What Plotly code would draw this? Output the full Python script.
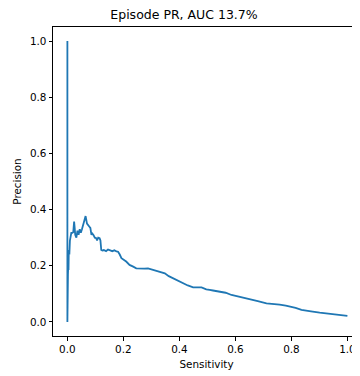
import plotly.graph_objects as go

# Sensitivity (recall) and precision points
sensitivity = [1.0, 0.961, 0.93, 0.901, 0.87, 0.836, 0.815, 0.8, 0.78, 0.758, 0.735, 0.711,
               0.68, 0.651, 0.621, 0.6, 0.586, 0.565, 0.544, 0.52, 0.508, 0.496, 0.479, 0.465,
               0.449, 0.43, 0.413, 0.395, 0.377, 0.362, 0.348, 0.333, 0.318, 0.3, 0.288, 0.275,
               0.264, 0.255, 0.246, 0.235, 0.222, 0.21, 0.2, 0.193, 0.187, 0.181, 0.175, 0.168,
               0.16, 0.152, 0.145, 0.138, 0.13, 0.125, 0.121, 0.118, 0.115, 0.11, 0.106, 0.103,
               0.098, 0.093, 0.089, 0.086, 0.082, 0.078, 0.074, 0.07, 0.065, 0.061, 0.058, 0.056,
               0.052, 0.048, 0.044, 0.04, 0.036, 0.032, 0.028, 0.026, 0.024, 0.021, 0.018, 0.014,
               0.011, 0.009, 0.007, 0.005, 0.004, 0.003, 0.002, 0.0, 0.0]
precision = [0.022, 0.026, 0.029, 0.033, 0.038, 0.043, 0.05, 0.054, 0.058, 0.062, 0.064, 0.066,
             0.074, 0.081, 0.090, 0.093, 0.096, 0.104, 0.109, 0.112, 0.114, 0.116, 0.123, 0.124,
             0.123, 0.13, 0.138, 0.145, 0.153, 0.163, 0.173, 0.178, 0.183, 0.187, 0.191, 0.19,
             0.191, 0.19, 0.191, 0.197, 0.203, 0.215, 0.222, 0.227, 0.24, 0.25, 0.251, 0.255,
             0.252, 0.255, 0.258, 0.252, 0.256, 0.254, 0.256, 0.29, 0.298, 0.3, 0.29, 0.298,
             0.3, 0.31, 0.315, 0.31, 0.335, 0.34, 0.345, 0.35, 0.377, 0.36, 0.345, 0.344,
             0.33, 0.318, 0.33, 0.31, 0.325, 0.3, 0.31, 0.335, 0.357, 0.32, 0.317, 0.317,
             0.3, 0.29, 0.24, 0.256, 0.185, 0.2, 0.17, 0.0, 1.0]

x_ticks = [0.0, 0.2, 0.4, 0.6, 0.8, 1.0]
y_ticks = [0.0, 0.2, 0.4, 0.6, 0.8, 1.0]
tick_text = ["0.0", "0.2", "0.4", "0.6", "0.8", "1.0"]

font = "DejaVu Sans"

fig = go.Figure()
fig.add_trace(go.Scatter(x=sensitivity, y=precision, mode="lines",
                         line=dict(color="#1f77b4", width=1.8), showlegend=False))

# page body has an 8px margin, so the figure is sized to fit the window after that offset
fig.update_layout(
    width=352, height=368,
    margin=dict(l=45, r=0, t=19, b=40, autoexpand=False),
    paper_bgcolor="white", plot_bgcolor="white",
    font=dict(family=font, size=10.4, color="black"),
    title=dict(text="Episode PR, AUC 13.7%", x=0.5, xanchor="center",
               y=1 - 7 / 368, yanchor="middle", yref="container",
               font=dict(family=font, size=12.5, color="black")),
)
fig.update_xaxes(range=[-0.0514, 1.045], tickvals=x_ticks, ticktext=tick_text,
                 showgrid=False, zeroline=False, showline=True, linecolor="black",
                 linewidth=1, mirror=True, ticks="outside", ticklen=3.5, tickcolor="black",
                 automargin=False,
                 title=dict(text="Sensitivity", standoff=6, font=dict(family=font, size=10.4)))
fig.update_yaxes(range=[-0.05, 1.05], tickvals=y_ticks, ticktext=tick_text,
                 showgrid=False, zeroline=False, showline=True, linecolor="black",
                 linewidth=1, mirror=False, ticks="outside", ticklen=3.5, tickcolor="black",
                 automargin=False,
                 title=dict(text="Precision", standoff=6, font=dict(family=font, size=10.4)))

fig.write_html("out.html")
